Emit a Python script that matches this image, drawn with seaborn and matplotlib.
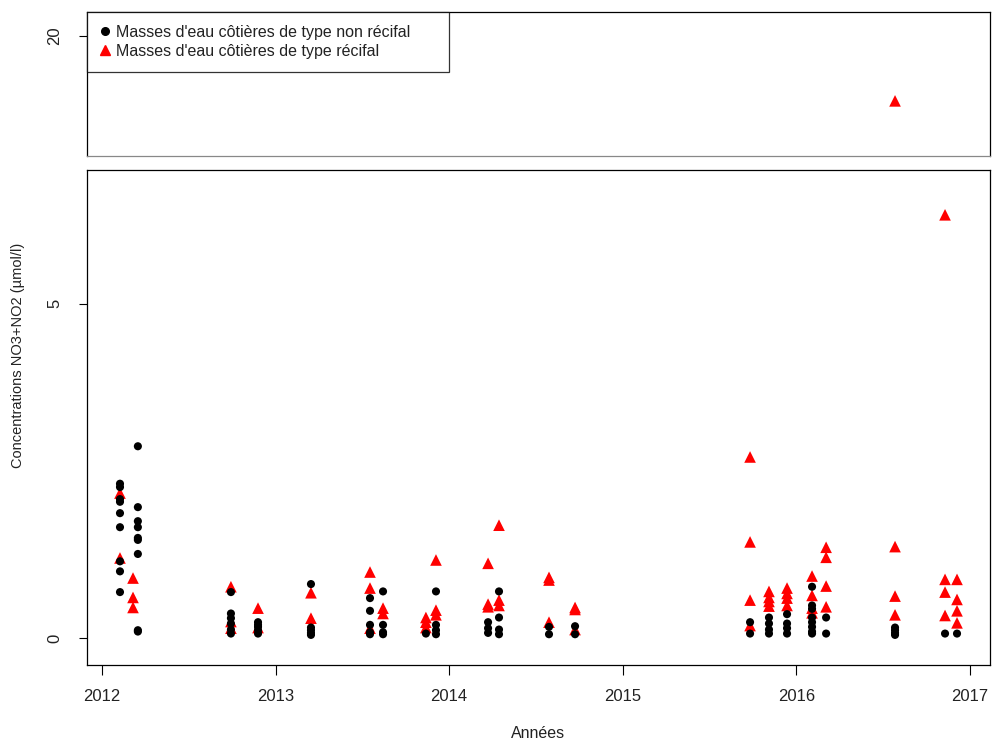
import matplotlib
matplotlib.use("Agg")
import matplotlib.pyplot as plt
import seaborn as sns
import pandas as pd
from matplotlib.lines import Line2D

sns.set_theme(style="white")
plt.rcParams['font.family'] = ['Liberation Sans', 'DejaVu Sans']

# Sampling dates (decimal years) and NO3+NO2 concentrations (µmol/l)
non_recifal_dates = (
    [2012.104] * 9 + [2012.207] * 9 + [2012.743] * 6 + [2012.899] * 5 +
    [2013.204] * 5 + [2013.544] * 5 + [2013.619] * 4 + [2013.866] * 1 +
    [2013.924] * 4 + [2014.224] * 3 + [2014.287] * 4 + [2014.575] * 2 +
    [2014.725] * 2 + [2015.733] * 2 + [2015.842] * 4 + [2015.946] * 4 +
    [2016.090] * 8 + [2016.171] * 2 + [2016.568] * 4 + [2016.856] * 1 +
    [2016.925] * 1
)
non_recifal_values = [
    2.31, 2.26, 2.08, 2.04, 1.87, 1.66, 1.15, 1.00, 0.69,
    2.87, 1.96, 1.75, 1.66, 1.50, 1.47, 1.26, 0.12, 0.10,
    0.69, 0.37, 0.30, 0.22, 0.13, 0.07,
    0.24, 0.20, 0.17, 0.12, 0.07,
    0.81, 0.16, 0.12, 0.08, 0.05,
    0.60, 0.41, 0.20, 0.09, 0.06,
    0.70, 0.20, 0.09, 0.06,
    0.07,
    0.70, 0.20, 0.12, 0.06,
    0.24, 0.15, 0.08,
    0.70, 0.31, 0.13, 0.06,
    0.17, 0.06,
    0.18, 0.06,
    0.24, 0.07,
    0.31, 0.22, 0.13, 0.07,
    0.36, 0.22, 0.15, 0.07,
    0.77, 0.49, 0.44, 0.31, 0.24, 0.17, 0.10, 0.07,
    0.31, 0.07,
    0.16, 0.12, 0.08, 0.05,
    0.07,
    0.07,
]

recifal_dates = (
    [2012.104] * 2 + [2012.179] * 3 + [2012.743] * 3 + [2012.899] * 2 +
    [2013.204] * 2 + [2013.544] * 3 + [2013.619] * 2 + [2013.866] * 3 +
    [2013.924] * 3 + [2014.224] * 3 + [2014.287] * 3 + [2014.575] * 3 +
    [2014.725] * 3 + [2015.733] * 4 + [2015.842] * 4 + [2015.946] * 4 +
    [2016.090] * 4 + [2016.171] * 4 + [2016.568] * 4 + [2016.856] * 4 +
    [2016.925] * 4
)
recifal_values = [
    2.17, 1.20,
    0.90, 0.61, 0.46,
    0.77, 0.25, 0.15,
    0.45, 0.16,
    0.68, 0.30,
    0.99, 0.75, 0.15,
    0.45, 0.37,
    0.31, 0.24, 0.16,
    1.17, 0.42, 0.35,
    1.12, 0.51, 0.47,
    1.69, 0.57, 0.49,
    0.91, 0.87, 0.24,
    0.46, 0.43, 0.13,
    2.71, 1.44, 0.57, 0.19,
    0.70, 0.61, 0.55, 0.48,
    0.75, 0.67, 0.60, 0.49,
    0.93, 0.64, 0.45, 0.38,
    1.36, 1.21, 0.78, 0.47,
    1.37, 0.63, 0.35, 18.0,
    6.33, 0.88, 0.69, 0.34,
    0.88, 0.58, 0.41, 0.23,
]

series_labels = ["Masses d'eau côtières de type non récifal",
                 "Masses d'eau côtières de type récifal"]
year_ticks = [2012, 2013, 2014, 2015, 2016, 2017]

df = pd.concat([
    pd.DataFrame({"date": recifal_dates, "value": recifal_values, "type": series_labels[1]}),
    pd.DataFrame({"date": non_recifal_dates, "value": non_recifal_values, "type": series_labels[0]}),
], ignore_index=True)

W, H = 992, 740
fig = plt.figure(figsize=(W / 100, H / 100), dpi=100)
L, R = 87 / W, 990 / W
ax_top = fig.add_axes([L, 1 - 156 / H, R - L, (156 - 12) / H])
ax_bot = fig.add_axes([L, 1 - 665 / H, R - L, (665 - 170) / H])

palette = {series_labels[0]: "black", series_labels[1]: "red"}
markers = {series_labels[0]: "o", series_labels[1]: "^"}
sizes = {series_labels[0]: 34, series_labels[1]: 70}

for ax in (ax_top, ax_bot):
    for t in [series_labels[1], series_labels[0]]:
        sub = df[df["type"] == t]
        sns.scatterplot(data=sub, x="date", y="value", color=palette[t],
                        marker=markers[t], s=sizes[t], linewidth=0,
                        edgecolor="none", ax=ax, legend=False, zorder=3)
    ax.set_xlim(2011.914, 2017.115)
    ax.set_xlabel("")
    ax.set_ylabel("")
    for sp in ax.spines.values():
        sp.set_color("black")
        sp.set_linewidth(0.9)
    ax.tick_params(axis="y", direction="out", length=6, width=0.8,
                   colors="black", labelsize=12, left=True, pad=12)
    ax.tick_params(axis="y", labelcolor="#222222")

ax_top.set_ylim(16.3, 20.74)
ax_top.set_yticks([20])
ax_top.set_yticklabels(["20"], rotation=90, va="center")
ax_top.set_xticks([])
ax_top.spines["bottom"].set_color("#888888")

ax_bot.set_ylim(-0.4, 7.0)
ax_bot.set_yticks([0, 5])
ax_bot.set_yticklabels(["0", "5"], rotation=90, va="center")
ax_bot.set_xticks(year_ticks)
ax_bot.set_xticklabels([str(y) for y in year_ticks])
ax_bot.tick_params(axis="x", direction="out", length=7, width=0.8,
                   colors="black", labelsize=12, bottom=True, pad=10)
ax_bot.tick_params(axis="x", labelcolor="#222222")

handles = [
    Line2D([], [], linestyle="none", marker="o", color="black", markersize=5.5),
    Line2D([], [], linestyle="none", marker="^", color="red", markersize=7),
]
leg = ax_top.legend(handles, series_labels, loc="upper left",
                    bbox_to_anchor=(0, 1 - 60 / 144, 362 / 903, 60 / 144),
                    mode="expand", frameon=True, fancybox=False,
                    fontsize=11.5, handlelength=0.65, handletextpad=0.36,
                    borderaxespad=0, borderpad=0.8, labelspacing=0.25)
leg.get_frame().set_edgecolor("black")
leg.get_frame().set_linewidth(0.9)
for txt in leg.get_texts():
    txt.set_color("#222222")

fig.text(18 / W, 1 - 355 / H, "Concentrations NO3+NO2 (µmol/l)", rotation=90,
         ha="center", va="center", fontsize=10.5, color="#222222")
fig.text(538 / W, 1 - 733 / H, "Années", ha="center", va="center",
         fontsize=11.5, color="#222222")

fig.savefig("out.png", dpi=100, facecolor="white")
